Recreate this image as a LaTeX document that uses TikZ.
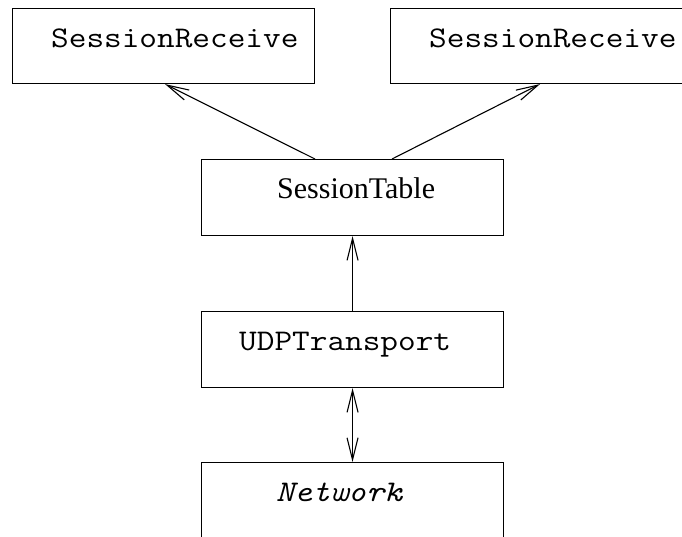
\documentclass[tikz,border=0pt]{standalone}
\usepackage{fontspec}
\setmainfont{Liberation Serif}
\setmonofont[FakeStretch=1.143]{Latin Modern Mono}
\usetikzlibrary{arrows.meta,calc}
\begin{document}
\begin{tikzpicture}[x=1pt,y=-1pt,
  box/.style={draw,line width=1.1pt,rectangle,inner sep=0pt,anchor=north west},
  lbl/.style={anchor=base west,inner sep=0pt,font=\fontsize{30}{36}\selectfont},
  conn/.style={line width=1.1pt,-{Straight Barb[length=22pt,width=11pt]}},
  biconn/.style={line width=1.1pt,{Straight Barb[length=22pt,width=11pt]}-{Straight Barb[length=22pt,width=11pt]}}]
  \clip (0,0) rectangle (682,536);
  % boxes
  \node[box,minimum width=302pt,minimum height=75pt] (lsr) at (12,8) {};
  \node[box,minimum width=320pt,minimum height=75pt] (rsr) at (390,8) {};
  \node[box,minimum width=302pt,minimum height=76pt] (st) at (201,159) {};
  \node[box,minimum width=302pt,minimum height=76pt] (udp) at (201,311) {};
  \node[box,minimum width=302pt,minimum height=90pt] (net) at (201,462) {};
  % labels
  \node[lbl] (lsrt) at ($(lsr.north west)+(39,39)$) {\ttfamily SessionReceive};
  \node[lbl] (rsrt) at ($(rsr.north west)+(39,39)$) {\ttfamily SessionReceive};
  \node[lbl] (stt) at ($(st.north west)+(76,39)$) {SessionTable};
  \node[lbl] (udpt) at ($(udp.north west)+(38,39)$) {\ttfamily UDPTransport};
  \node[lbl] (nett) at ($(net.north west)+(75,39)$) {\ttfamily\itshape Network};
  % connectors
  \draw[conn] ($(st.north west)+(114,0)$) -- ($(lsr.south west)+(153,0)$);
  \draw[conn] ($(st.north west)+(191,0)$) -- ($(rsr.south west)+(150,0)$);
  \draw[conn] (udp.north) -- (st.south);
  \draw[biconn] (udp.south) -- (net.north);
\end{tikzpicture}
\end{document}
